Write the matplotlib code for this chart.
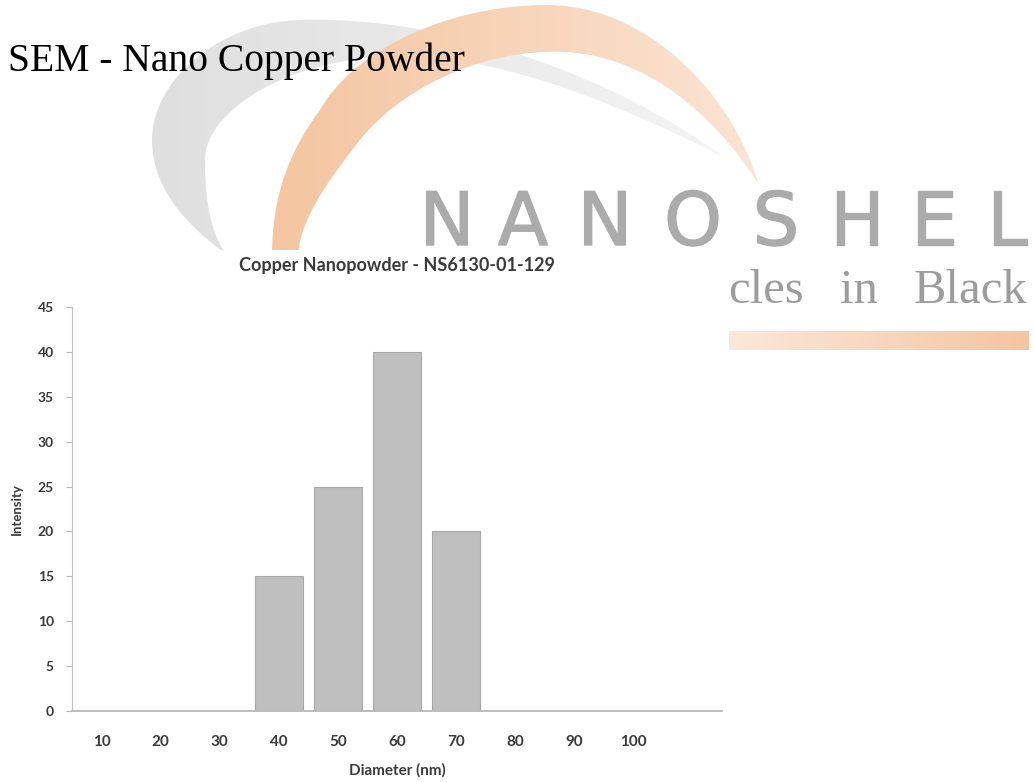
import numpy as np
import matplotlib
matplotlib.use("Agg")
import matplotlib.pyplot as plt
import matplotlib.patheffects as pe
from matplotlib.path import Path
from matplotlib.patches import PathPatch, Rectangle
from matplotlib.colors import LinearSegmentedColormap

# chart data
diameters = ["10", "20", "30", "40", "50", "60", "70", "80", "90", "100", ""]
intensity = [0, 0, 0, 15, 25, 40, 20, 0, 0, 0, 0]
y_ticks = [0, 5, 10, 15, 20, 25, 30, 35, 40, 45]

page_title = "SEM - Nano Copper Powder"
chart_title = "Copper Nanopowder - NS6130-01-129"
logo_word = "NANOSHEL"
logo_tagline = ["Parti", "cles", "in", "Black"]

W, H = 1034, 782
fig = plt.figure(figsize=(W / 100, H / 100), dpi=100)

# background layer in pixel coordinates for the watermark logo
bg = fig.add_axes([0, 0, 1, 1])
bg.set_xlim(0, W)
bg.set_ylim(H, 0)
bg.axis("off")


def bezier_path(start, segments):
    verts = [start]
    codes = [Path.MOVETO]
    for c1, c2, end in segments:
        verts += [c1, c2, end]
        codes += [Path.CURVE4] * 3
    verts.append(start)
    codes.append(Path.CLOSEPOLY)
    return Path(verts, codes)


def gradient_fill(ax, path, c0, c1, x0, x1, y0, y1, z):
    patch = PathPatch(path, facecolor="none", edgecolor="none")
    ax.add_patch(patch)
    cmap = LinearSegmentedColormap.from_list("g", [c0, c1])
    grad = np.linspace(0, 1, 256).reshape(1, -1)
    im = ax.imshow(grad, extent=(x0, x1, y1, y0), cmap=cmap,
                   aspect="auto", zorder=z, interpolation="bilinear")
    im.set_clip_path(patch)


gray_swoosh = bezier_path((226, 254), [
    ((182, 222), (152, 185), (152, 140)),
    ((152, 80), (220, 22), (300, 20)),
    ((450, 15), (620, 80), (722, 156)),
    ((620, 105), (500, 55), (400, 56)),
    ((290, 57), (205, 110), (205, 160)),
    ((205, 205), (212, 235), (226, 254)),
])
orange_swoosh = bezier_path((272, 256), [
    ((272, 195), (290, 150), (320, 110)),
    ((350, 55), (440, 6), (545, 5)),
    ((650, 4), (735, 100), (758, 183)),
    ((712, 112), (645, 56), (565, 52)),
    ((475, 48), (395, 95), (360, 140)),
    ((322, 188), (300, 222), (298, 256)),
])
gradient_fill(bg, gray_swoosh, "#dfdfdf", "#f4f4f4", 150, 725, 0, 260, 1)
gradient_fill(bg, orange_swoosh, "#f4c5a0", "#fbe4d3", 270, 760, 0, 260, 2)

bar = Path([(729, 331), (1029, 331), (1029, 350), (729, 350), (729, 331)],
           [Path.MOVETO, Path.LINETO, Path.LINETO, Path.LINETO, Path.CLOSEPOLY])
gradient_fill(bg, bar, "#fbe8da", "#f4c5a2", 729, 1029, 331, 350, 3)

letter_x = [447, 523, 605, 693, 776, 857, 934, 1007]
for ch, x in zip(logo_word, letter_x):
    bg.text(x, 245, ch, fontsize=53, family="DejaVu Sans", color="#ababab",
            ha="center", va="baseline", zorder=3,
            path_effects=[pe.withStroke(linewidth=1.0, foreground="#ababab")])

tag_kw = dict(fontsize=35, family="Liberation Serif", color="#9c9c9c",
              va="baseline", zorder=3)
bg.text(728, 303, logo_tagline[0], ha="right", **tag_kw)
bg.text(728, 303, logo_tagline[1], ha="left", **tag_kw)
bg.text(840, 303, logo_tagline[2], ha="left", **tag_kw)
bg.text(1027, 303, logo_tagline[3], ha="right", **tag_kw)

# white box of the chart picture covers part of the logo
bg.add_patch(Rectangle((0, 250), 727, H - 250, facecolor="white",
                       edgecolor="none", zorder=5))

bg.text(8, 71, page_title, fontsize=28.5, family="Liberation Serif",
        color="black", ha="left", va="baseline", zorder=6)

# the bar chart
ax = fig.add_axes([72 / W, 1 - 711 / H, 650 / W, 404 / H])
ax.set_facecolor("none")
pos = np.arange(len(diameters))
ax.bar(pos, intensity, width=0.82, color="#bfbfbf", edgecolor="#a8a8a8",
       linewidth=0.8, zorder=2)
ax.set_xlim(-0.5, len(diameters) - 0.5)
ax.set_ylim(0, 45)
ax.set_yticks(y_ticks)
ax.set_xticks(pos)
ax.set_xticklabels(diameters)

for s in ["top", "right"]:
    ax.spines[s].set_visible(False)
ax.spines["left"].set_color("#c0c0c0")
ax.spines["bottom"].set_color("#bdbdbd")
ax.spines["bottom"].set_linewidth(1.4)

ax.tick_params(axis="y", direction="out", length=4, color="#b5b5b5", pad=9,
               labelsize=10, labelcolor="#3a3a3a")
ax.tick_params(axis="x", length=0, pad=17, labelsize=11, labelcolor="#3a3a3a")
for lab in ax.get_xticklabels() + ax.get_yticklabels():
    lab.set_family("Lato")
    lab.set_fontweight("bold")

ax.set_title(chart_title, fontsize=13, family="Lato", fontweight="bold",
             color="#3a3a3a", pad=26)
ax.set_ylabel("Intensity", fontsize=9.5, family="Lato", fontweight="bold",
              color="#3a3a3a")
ax.yaxis.set_label_coords(-0.075, 0.5)
ax.set_xlabel("Diameter (nm)", fontsize=11, family="Lato", fontweight="bold",
              color="#3a3a3a")
ax.xaxis.set_label_coords(0.5, -0.13)

fig.savefig("out.png", dpi=100)
